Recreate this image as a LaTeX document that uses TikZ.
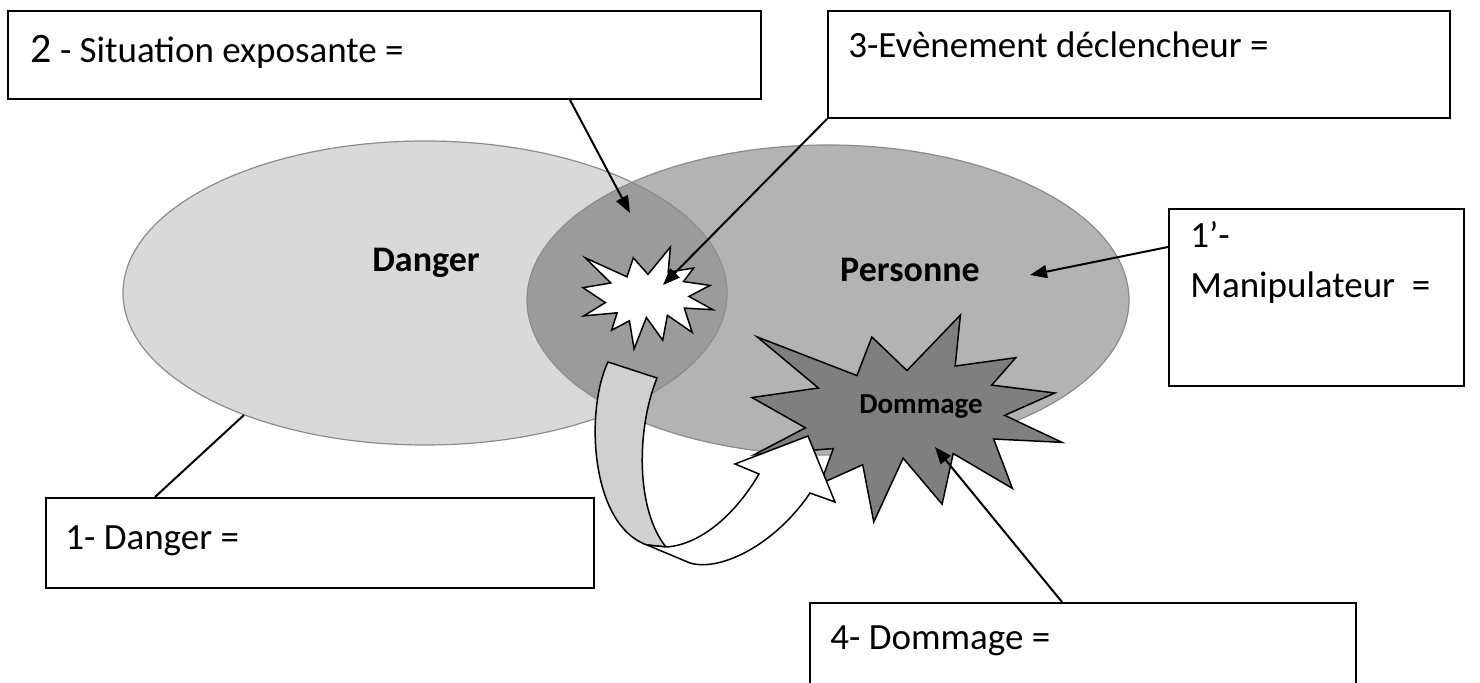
\documentclass[tikz,border=0pt]{standalone}
\usepackage{fontspec}
\setmainfont{Carlito}
\usepackage{tikz}
\usetikzlibrary{arrows.meta}

\definecolor{dangergray}{HTML}{D9D9D9}
\definecolor{persgray}{HTML}{B3B3B3}
\definecolor{overlapgray}{HTML}{9B9B9B}
\definecolor{rimgray}{HTML}{8C8C8C}
\definecolor{dmggray}{HTML}{7F7F7F}
\definecolor{bandgray}{HTML}{D0D0D0}

\begin{document}
\begin{tikzpicture}[x=0.5pt, y=-0.5pt]
  \tikzset{
    box/.style={rectangle, draw=black, line width=1pt, fill=white,
                inner sep=0pt, anchor=north west},
    boxtext/.style={font=\fontsize{18.5}{25}\selectfont, anchor=base west,
                    inner sep=0pt, align=left},
    blob/.style={font=\bfseries\fontsize{18}{22}\selectfont, anchor=base, inner sep=0pt},
    rim/.style={draw=rimgray, line width=0.6pt},
    arr/.style={-{Triangle[length=8.5pt, width=6.5pt]}, line width=1pt},
    explosion/.pic={
      \path[pic actions] (108,58) -- (145.22,0) -- (141.55,53.25) -- (183.8,44.57)
        -- (167.02,73.15) -- (210.97,81.37) -- (176.07,104.75) -- (216,132.9)
        -- (168.37,129.42) -- (181.45,180.95) -- (140.2,144.57) -- (132.47,197.37)
        -- (105.32,149.35) -- (84.85,216) -- (77.15,156.27) -- (47.62,176.17)
        -- (56.67,139.37) -- (1.35,145.87) -- (37.22,117.75) -- (0,86.15)
        -- (46.27,76.17) -- (3.7,22.95) -- (73.12,63.2) -- (83.52,22.95) -- cycle;
    }
  }
  \useasboundingbox (0,0) rectangle (1480,683);
  % the two sets and their overlap
  \fill[dangergray] (425,293) ellipse [x radius=302, y radius=152];
  \fill[persgray] (828,300) ellipse [x radius=301, y radius=155];
  \begin{scope}
    \clip (425,293) ellipse [x radius=302, y radius=152];
    \fill[overlapgray] (828,300) ellipse [x radius=301, y radius=155];
  \end{scope}
  \draw[rim] (425,293) ellipse [x radius=302, y radius=152];
  \draw[rim] (828,300) ellipse [x radius=301, y radius=155];
  \node[blob] (danger) at (426,272) {Danger};
  \node[blob] (pers) at (910,282) {Personne};
  % back of the curved arrow
  \filldraw[fill=bandgray, draw=black, line width=0.75pt]
    (608,362) -- (657,378) .. controls (636,430) and (636,510) .. (666,547)
    -- (647,545) .. controls (590,525) and (585,410) .. (608,362) -- cycle;
  % explosions
  \pic[draw=black, fill=white, line width=0.75pt,
       shift={(583,247)}, xscale=130/216, yscale=102/216] {explosion};
  \pic[draw=black, fill=dmggray, line width=0.75pt,
       shift={(752,315)}, xscale=310/216, yscale=207/216] {explosion};
  \node[blob, font=\bfseries\fontsize{14.5}{18}\selectfont] (dmg) at (921,414) {Dommage};
  % front of the curved arrow
  \filldraw[fill=white, draw=black, line width=0.75pt]
    (647,545) -- (690,563) .. controls (720,572) and (775,545) .. (810,493)
    -- (835,502) -- (808,436) -- (735,464) -- (759,474)
    .. controls (735,515) and (700,545) .. (666,547) -- cycle;
  % boxes
  \node[box, minimum width=376.5pt, minimum height=44pt] (sit) at (7,10) {};
  \node[box, minimum width=311pt, minimum height=53.5pt] (evt) at (827,10) {};
  \node[box, minimum width=147.5pt, minimum height=88.5pt] (man) at (1168,208) {};
  \node[box, minimum width=274pt, minimum height=45pt] (dng) at (45,497) {};
  \node[box, minimum width=273pt, minimum height=59pt] (dmgbox) at (809,602) {};
  \node[boxtext] (sittext) at (30,63)
    {{\fontsize{21}{25}\selectfont 2} - Situation exposante =};
  \node[boxtext] (evttext) at (848,58) {3-Evènement déclencheur =};
  \node[boxtext] (mantext) at (1190,298) {1’-\\Manipulateur\ \ =};
  \node[boxtext] (dngtext) at (65,550) {1- Danger =};
  \node[boxtext] (dmgtext) at (830,650) {4- Dommage =};
  % connectors
  \coordinate (tipsit) at (630,213);
  \coordinate (tipevt) at (663,285);
  \coordinate (tipman) at (1030,275);
  \coordinate (tipdmg) at (935,447);
  \coordinate (rimdanger) at (244,415);
  \draw[arr] ([shift={(563,0)}]sit.south west) -- (tipsit);
  \draw[arr] (evt.south west) -- (tipevt);
  \draw[arr] ([shift={(0,39)}]man.north west) -- (tipman);
  \draw[line width=1pt] ([shift={(110,0)}]dng.north west) -- (rimdanger);
  \draw[arr] ([shift={(253,0)}]dmgbox.north west) -- (tipdmg);
\end{tikzpicture}
\end{document}
